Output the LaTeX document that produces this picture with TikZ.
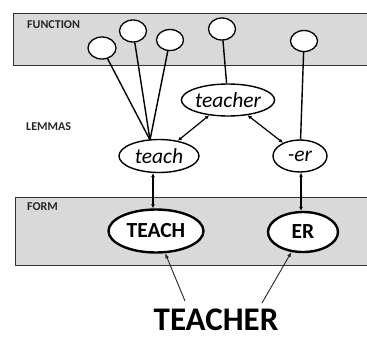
\documentclass[tikz,border=0pt]{standalone}
\usepackage{fontspec}
\setmainfont{Carlito}
\usetikzlibrary{arrows.meta,shapes.geometric,calc}
\begin{document}
\begin{tikzpicture}[x=1pt,y=-1pt,
  band/.style={draw=black!80, line width=1pt, fill=gray!30},
  lbl/.style={font=\fontsize{12}{12}\selectfont\bfseries, anchor=west, text=black!85, inner sep=0},
  fcirc/.style={draw, line width=1.3pt, fill=white, ellipse, minimum width=27pt, minimum height=22pt, inner sep=0},
  lemma/.style={draw, line width=1.4pt, fill=white, ellipse, inner sep=0, font=\fontsize{21.5}{22}\selectfont\itshape},
  formnode/.style={draw, line width=2.4pt, fill=white, ellipse, inner sep=0, font=\fontsize{21.5}{22}\selectfont\bfseries},
  conn/.style={line width=1.4pt},
  dbl/.style={line width=1.2pt, {Latex[length=4pt,width=4pt]}-{Latex[length=4pt,width=4pt]}},
  sgl/.style={line width=0.9pt, -{Latex[length=5pt,width=4pt]}, black!85},
]
\useasboundingbox (0,0) rectangle (367,338);
\fill[white] (0,0) rectangle (367,338);
\draw[band] (13,13) rectangle (372,65);
\draw[band] (15,197) rectangle (372,265);
\node[lbl] (lf) at (27,25) {FUNCTION};
\node[lbl] (ll) at (26,127) {LEMMAS};
\node[lbl] (lfo) at (27,207) {FORM};

\node[fcirc, minimum width=28pt] (f1) at (102,48) {};
\node[fcirc] (f2) at (133,31) {};
\node[fcirc, minimum height=21pt] (f3) at (170,40) {};
\node[fcirc] (f4) at (222,29) {};
\node[fcirc, minimum height=21pt] (f5) at (304,41) {};

\node[lemma, minimum width=87pt, minimum height=32pt] (teacher) at (228,100) {teacher};
\node[lemma, minimum width=80pt, minimum height=33pt] (teach) at (159,156) {teach};
\node[lemma, minimum width=54pt, minimum height=32pt] (er) at (300,156) {-er};

\node[formnode, minimum width=95pt, minimum height=43pt] (TEACH) at (156,231) {TEACH};
\node[formnode, minimum width=70pt, minimum height=40pt] (ER) at (303,232) {ER};

\node[font=\fontsize{33}{33}\selectfont\bfseries, inner sep=0, anchor=base] (word) at (216,330) {TEACHER};

\coordinate (apex) at (150,140);
\draw[conn] (f1) -- (apex);
\draw[conn] (f2) -- (apex);
\draw[conn] (f3) -- (apex);
\draw[conn] (f4) -- (teacher);
\draw[conn] (f5) -- (er);

\draw[dbl] (teach) -- (teacher);
\draw[dbl] (teacher) -- (er);
\draw[dbl] ($(teach.south)+(-6,0)$) -- ($(TEACH.north)+(-3,0)$);
\draw[dbl] ($(er.south)+(1,0)$) -- ($(ER.north)+(-2,0)$);

\coordinate (w1) at (185,301);
\coordinate (w2) at (262,303);
\draw[sgl] (w1) -- (TEACH);
\draw[sgl] (w2) -- (ER);
\end{tikzpicture}
\end{document}
